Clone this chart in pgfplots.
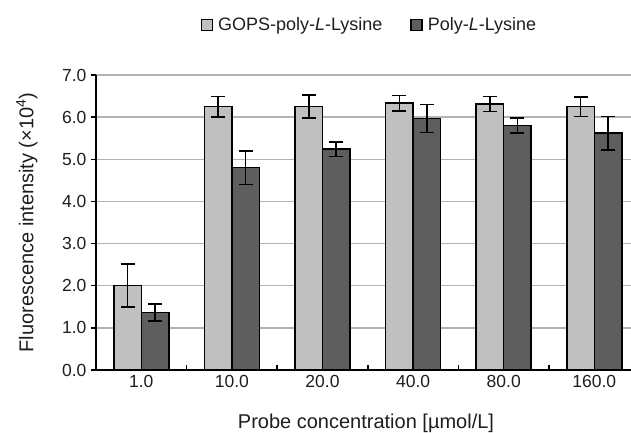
\documentclass[border=0pt]{standalone}
\usepackage{pgfplots}
\pgfplotsset{compat=1.18}
\usepackage{fontspec}
\setmainfont{Liberation Sans}
\definecolor{lightbar}{HTML}{C0C0C0}
\definecolor{darkbar}{HTML}{5E5E5E}
\definecolor{gridgray}{HTML}{B4B4B4}
\definecolor{txt}{HTML}{1E1E1E}
\begin{document}
\begin{tikzpicture}
\begin{axis}[
  at={(0,0)}, anchor=south west,
  scale only axis, width=535pt, height=295pt,
  xmin=-0.5, xmax=5.405, ymin=0, ymax=7,
  axis x line=bottom, axis y line=left,
  axis line style={-, line width=1.5pt, black},
  ybar=0pt, bar width=27.5pt,
  xtick={0,1,2,3,4,5},
  xticklabels={1.0,10.0,20.0,40.0,80.0,160.0},
  major x tick style={draw=none},
  minor xtick={0.5,1.5,2.5,3.5,4.5},
  minor x tick style={line width=1.5pt, black},
  minor tick length=5pt,
  xtick align=inside,
  ytick={0,1,...,7},
  ytick align=outside,
  major tick length=5pt,
  ytick style={line width=1.5pt, black},
  yticklabel style={/pgf/number format/fixed, /pgf/number format/fixed zerofill, /pgf/number format/precision=1, xshift=-1pt},
  /pgf/number format/assume math mode=true,
  ymajorgrids, grid style={gridgray, line width=1.4pt},
  tick label style={font=\fontsize{17.5}{20}\selectfont, text=txt},
  xticklabel style={yshift=-2pt},
  every axis y label/.style={at={(axis description cs:-0.1290,0.5)}, rotate=90, anchor=center, font=\fontsize{20}{24}\selectfont, text=txt},
  every axis x label/.style={at={(axis description cs:0.5047,-0.1797)}, anchor=center, font=\fontsize{20}{24}\selectfont, text=txt},
  xlabel={Probe concentration [µmol/L]},
  ylabel={Fluorescence intensity (×10\textsuperscript{4})},
  legend style={at={(axis description cs:0.511,1.169)}, anchor=center, draw=none, fill=none,
    legend columns=2, font=\fontsize{18}{21}\selectfont, text=txt,
    /tikz/every odd column/.append style={column sep=3pt},
    /tikz/every even column/.append style={column sep=26pt},
    legend cell align=left, inner sep=0pt},
  legend image code/.code={\draw[#1, draw=black, line width=1.4pt] (0pt,-5.5pt) rectangle (11pt,5.5pt);},
  error bars/error bar style={line width=1.6pt, black},
  error bars/error mark options={rotate=90, mark size=7pt, line width=1.6pt, black},
]
\addplot[fill=lightbar, draw=black, line width=1.5pt,
  error bars/.cd, y dir=both, y explicit]
  coordinates {
    (0,2.01) +- (0,0.51)
    (1,6.25) +- (0,0.24)
    (2,6.25) +- (0,0.27)
    (3,6.33) +- (0,0.18)
    (4,6.31) +- (0,0.18)
    (5,6.25) +- (0,0.23)
  };
\addplot[fill=darkbar, draw=black, line width=1.5pt,
  error bars/.cd, y dir=both, y explicit]
  coordinates {
    (0,1.36) +- (0,0.20)
    (1,4.80) +- (0,0.40)
    (2,5.24) +- (0,0.17)
    (3,5.97) +- (0,0.33)
    (4,5.80) +- (0,0.18)
    (5,5.62) +- (0,0.40)
  };
\legend{GOPS-poly-\textit{L}-Lysine, Poly-\textit{L}-Lysine}
\end{axis}
\pgfresetboundingbox
\useasboundingbox (-96pt,-63pt) rectangle (535pt,370pt);
\end{tikzpicture}
\end{document}
